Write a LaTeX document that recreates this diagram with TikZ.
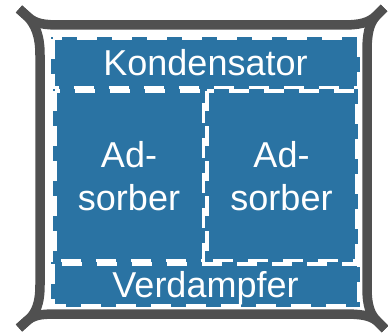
\documentclass[tikz,border=0pt]{standalone}
\usepackage{fontspec}
\setmainfont{Liberation Sans}
\definecolor{boxblue}{RGB}{42,115,163}
\definecolor{framegray}{RGB}{80,80,80}
\tikzset{
  frameline/.style={draw=framegray, line width=9.5pt, line cap=butt, line join=round},
  unit/.style={fill=boxblue, text=white, inner sep=0pt, outer sep=0pt,
    font=\fontsize{36}{43}\selectfont},
  oneline/.style={text height=25pt, text depth=0pt},
  dashborder/.style={draw=white, line width=3.5pt, dash pattern=on 20pt off 15pt}
}
\newcommand{\unitborder}[1]{\draw[dashborder] ([shift={(1.75,1.75)}]#1.north west) rectangle ([shift={(-1.75,-1.75)}]#1.south east);}
\begin{document}
\begin{tikzpicture}[x=1pt,y=-1pt]
\useasboundingbox (0,0) rectangle (388,334);
% frame
\draw[frameline] (19,9) -- (28,17) .. controls (36,24) and (44,25) .. (62,25) -- (342,25) .. controls (360,25) and (368,23) .. (376,16) -- (384,8);
\draw[frameline] (19,9) -- (28,17) .. controls (35,25) and (40,35) .. (40,55) -- (40,285) .. controls (40,305) and (35,314) .. (28,320) -- (19,328);
\draw[frameline] (19,328) -- (28,320) .. controls (36,314) and (44,314) .. (62,314) -- (342,314) .. controls (360,314) and (369,315) .. (377,321) -- (385,329);
\draw[frameline] (384,8) -- (376,16) .. controls (369,24) and (367,34) .. (367,52) -- (367,288) .. controls (367,305) and (370,314) .. (377,321) -- (385,329);
% units
\node[unit, oneline, minimum width=309pt, minimum height=52.5pt] (kond) at (205.5,63.25) {Kondensator};
\node[unit, align=center, minimum width=152pt, minimum height=172.5pt] (ads1) at (129,175.75) {Ad-\\sorber};
\node[unit, align=center, minimum width=153pt, minimum height=172.5pt] (ads2) at (281.5,175.75) {Ad-\\sorber};
\node[unit, oneline, minimum width=309pt, minimum height=45pt] (verd) at (205.5,284.5) {Verdampfer};
\unitborder{kond}
\unitborder{ads1}
\unitborder{ads2}
\unitborder{verd}
\end{tikzpicture}
\end{document}
